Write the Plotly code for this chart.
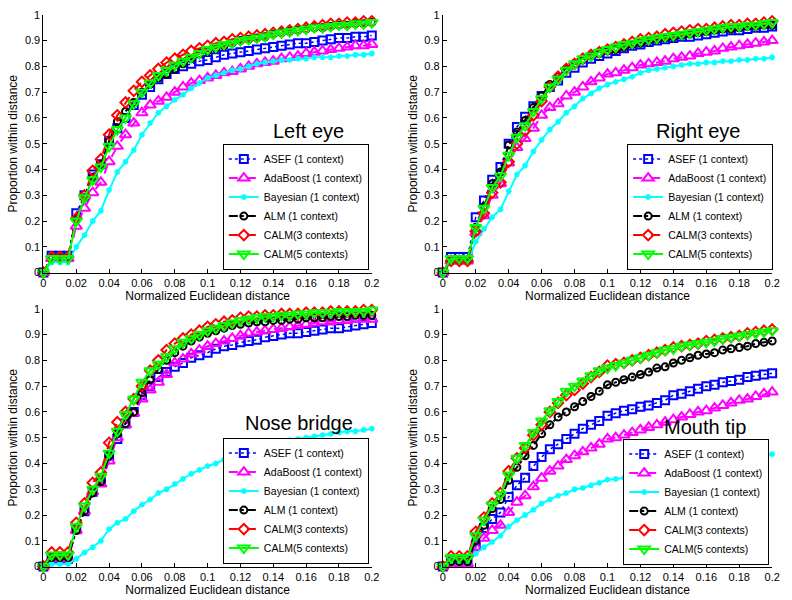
import plotly.graph_objects as go

# ---------------- data ----------------
x_dist = [0, 0.005, 0.01, 0.015, 0.02, 0.025, 0.03, 0.035, 0.04, 0.045,
          0.05, 0.055, 0.06, 0.065, 0.07, 0.075, 0.08, 0.085, 0.09, 0.095,
          0.1, 0.105, 0.11, 0.115, 0.12, 0.125, 0.13, 0.135, 0.14, 0.145,
          0.15, 0.155, 0.16, 0.165, 0.17, 0.175, 0.18, 0.185, 0.19, 0.195, 0.2]

series_names = ["ASEF (1 context)", "AdaBoost (1 context)", "Bayesian (1 context)",
                "ALM (1 context)", "CALM(3 contexts)", "CALM(5 contexts)"]
panel_labels = ["Left eye", "Right eye", "Nose bridge", "Mouth tip"]

x_ticks = [0, 0.02, 0.04, 0.06, 0.08, 0.1, 0.12, 0.14, 0.16, 0.18, 0.2]
x_ticktext = ["0", "0.02", "0.04", "0.06", "0.08", "0.1", "0.12", "0.14", "0.16", "0.18", "0.2"]
y_ticks = [0, 0.1, 0.2, 0.3, 0.4, 0.5, 0.6, 0.7, 0.8, 0.9, 1]
y_ticktext = ["0", "0.1", "0.2", "0.3", "0.4", "0.5", "0.6", "0.7", "0.8", "0.9", "1"]

# Left eye
le_asef = [0, 0.065, 0.065, 0.065, 0.23, 0.30, 0.38, 0.42, 0.51, 0.56, 0.60, 0.65, 0.69, 0.72, 0.75, 0.77, 0.79, 0.80, 0.81, 0.82,
           0.825, 0.835, 0.845, 0.85, 0.855, 0.86, 0.865, 0.87, 0.875, 0.88, 0.885, 0.89, 0.89, 0.895, 0.90, 0.905, 0.91, 0.91, 0.915, 0.915, 0.92]
le_ada = [0, 0.055, 0.055, 0.055, 0.18, 0.25, 0.31, 0.35, 0.43, 0.49, 0.535, 0.58, 0.62, 0.65, 0.665, 0.68, 0.70, 0.72, 0.735, 0.745,
          0.755, 0.765, 0.775, 0.78, 0.79, 0.80, 0.81, 0.815, 0.82, 0.83, 0.835, 0.84, 0.85, 0.855, 0.86, 0.865, 0.87, 0.875, 0.88, 0.88, 0.885]
le_bay = [0, 0.04, 0.04, 0.04, 0.10, 0.145, 0.20, 0.24, 0.32, 0.39, 0.43, 0.475, 0.535, 0.58, 0.62, 0.645, 0.67, 0.69, 0.715, 0.735,
          0.755, 0.765, 0.775, 0.785, 0.79, 0.80, 0.81, 0.815, 0.82, 0.825, 0.825, 0.83, 0.83, 0.835, 0.835, 0.835, 0.84, 0.84, 0.845, 0.845, 0.85]
le_alm = [0, 0.06, 0.06, 0.06, 0.21, 0.29, 0.37, 0.42, 0.51, 0.585, 0.625, 0.66, 0.70, 0.73, 0.755, 0.77, 0.79, 0.81, 0.83, 0.85,
          0.86, 0.87, 0.88, 0.89, 0.90, 0.905, 0.91, 0.915, 0.925, 0.93, 0.935, 0.94, 0.945, 0.95, 0.95, 0.955, 0.96, 0.96, 0.965, 0.965, 0.97]
le_calm3 = [0, 0.06, 0.06, 0.06, 0.21, 0.30, 0.395, 0.44, 0.535, 0.61, 0.66, 0.705, 0.74, 0.765, 0.79, 0.815, 0.83, 0.845, 0.86, 0.87,
            0.88, 0.89, 0.895, 0.905, 0.91, 0.915, 0.92, 0.925, 0.93, 0.935, 0.94, 0.945, 0.95, 0.955, 0.96, 0.965, 0.965, 0.97, 0.97, 0.975, 0.975]
le_calm5 = [0, 0.055, 0.055, 0.055, 0.20, 0.29, 0.36, 0.41, 0.49, 0.555, 0.60, 0.655, 0.70, 0.735, 0.765, 0.785, 0.805, 0.82, 0.835, 0.85,
            0.865, 0.875, 0.885, 0.89, 0.90, 0.905, 0.91, 0.915, 0.925, 0.93, 0.935, 0.94, 0.945, 0.95, 0.95, 0.955, 0.96, 0.96, 0.965, 0.965, 0.97]

# Right eye
re_asef = [0, 0.06, 0.06, 0.06, 0.215, 0.28, 0.36, 0.41, 0.50, 0.565, 0.605, 0.645, 0.685, 0.72, 0.745, 0.775, 0.795, 0.815, 0.83, 0.84,
           0.85, 0.86, 0.87, 0.88, 0.885, 0.895, 0.90, 0.905, 0.91, 0.915, 0.915, 0.92, 0.925, 0.93, 0.935, 0.94, 0.94, 0.945, 0.95, 0.95, 0.955]
re_ada = [0, 0.045, 0.045, 0.045, 0.155, 0.22, 0.30, 0.345, 0.425, 0.485, 0.52, 0.56, 0.61, 0.64, 0.655, 0.685, 0.70, 0.72, 0.74, 0.755,
          0.77, 0.775, 0.785, 0.795, 0.805, 0.81, 0.815, 0.82, 0.83, 0.835, 0.84, 0.85, 0.855, 0.86, 0.87, 0.875, 0.88, 0.885, 0.89, 0.895, 0.90]
re_bay = [0, 0.04, 0.04, 0.04, 0.12, 0.17, 0.215, 0.245, 0.315, 0.38, 0.415, 0.47, 0.515, 0.555, 0.585, 0.62, 0.645, 0.675, 0.695, 0.715,
          0.73, 0.74, 0.75, 0.76, 0.775, 0.785, 0.79, 0.795, 0.80, 0.805, 0.81, 0.81, 0.815, 0.815, 0.82, 0.82, 0.825, 0.825, 0.83, 0.83, 0.835]
re_alm = [0, 0.05, 0.05, 0.05, 0.175, 0.255, 0.345, 0.39, 0.495, 0.545, 0.59, 0.64, 0.685, 0.73, 0.76, 0.79, 0.81, 0.825, 0.84, 0.85,
          0.86, 0.865, 0.875, 0.885, 0.89, 0.90, 0.905, 0.91, 0.915, 0.92, 0.925, 0.93, 0.935, 0.94, 0.945, 0.945, 0.95, 0.955, 0.955, 0.96, 0.96]
re_calm3 = [0, 0.045, 0.045, 0.045, 0.16, 0.23, 0.31, 0.35, 0.43, 0.50, 0.55, 0.61, 0.665, 0.72, 0.76, 0.79, 0.81, 0.83, 0.845, 0.855,
            0.865, 0.875, 0.885, 0.895, 0.905, 0.91, 0.915, 0.925, 0.93, 0.935, 0.94, 0.945, 0.945, 0.95, 0.955, 0.96, 0.96, 0.965, 0.965, 0.97, 0.975]
re_calm5 = [0, 0.055, 0.055, 0.055, 0.175, 0.25, 0.33, 0.375, 0.455, 0.525, 0.57, 0.625, 0.675, 0.72, 0.75, 0.785, 0.81, 0.83, 0.84, 0.855,
            0.865, 0.875, 0.885, 0.89, 0.90, 0.905, 0.91, 0.915, 0.92, 0.925, 0.93, 0.935, 0.94, 0.945, 0.95, 0.955, 0.955, 0.96, 0.96, 0.965, 0.97]

# Nose bridge
nb_asef = [0, 0.03, 0.03, 0.03, 0.145, 0.215, 0.29, 0.33, 0.43, 0.495, 0.555, 0.60, 0.665, 0.70, 0.735, 0.755, 0.775, 0.79, 0.81, 0.82,
           0.83, 0.845, 0.855, 0.86, 0.87, 0.875, 0.88, 0.89, 0.895, 0.90, 0.905, 0.905, 0.91, 0.915, 0.92, 0.925, 0.925, 0.93, 0.935, 0.94, 0.945]
nb_ada = [0, 0.03, 0.03, 0.03, 0.14, 0.215, 0.29, 0.32, 0.41, 0.50, 0.55, 0.595, 0.65, 0.685, 0.715, 0.745, 0.79, 0.805, 0.825, 0.84,
          0.855, 0.865, 0.875, 0.885, 0.895, 0.905, 0.91, 0.915, 0.92, 0.925, 0.93, 0.935, 0.94, 0.945, 0.95, 0.95, 0.955, 0.955, 0.96, 0.96, 0.96]
nb_bay = [0, 0.01, 0.01, 0.01, 0.03, 0.055, 0.075, 0.10, 0.145, 0.17, 0.185, 0.215, 0.24, 0.26, 0.285, 0.30, 0.32, 0.34, 0.36, 0.375,
          0.39, 0.40, 0.415, 0.425, 0.435, 0.445, 0.455, 0.465, 0.475, 0.485, 0.49, 0.495, 0.50, 0.505, 0.51, 0.515, 0.52, 0.525, 0.525, 0.53, 0.535]
nb_alm = [0, 0.035, 0.035, 0.035, 0.14, 0.215, 0.285, 0.33, 0.43, 0.515, 0.555, 0.60, 0.675, 0.725, 0.765, 0.80, 0.83, 0.855, 0.875, 0.89,
          0.905, 0.915, 0.925, 0.935, 0.94, 0.945, 0.95, 0.95, 0.955, 0.955, 0.96, 0.96, 0.965, 0.965, 0.965, 0.97, 0.97, 0.97, 0.975, 0.975, 0.975]
nb_calm3 = [0, 0.055, 0.055, 0.055, 0.17, 0.245, 0.325, 0.365, 0.48, 0.56, 0.60, 0.65, 0.70, 0.76, 0.80, 0.84, 0.865, 0.885, 0.90, 0.915,
            0.93, 0.94, 0.95, 0.955, 0.965, 0.97, 0.97, 0.975, 0.975, 0.98, 0.98, 0.98, 0.985, 0.985, 0.985, 0.99, 0.99, 0.99, 0.99, 0.995, 0.995]
nb_calm5 = [0, 0.045, 0.045, 0.045, 0.155, 0.235, 0.30, 0.35, 0.44, 0.525, 0.59, 0.65, 0.715, 0.76, 0.785, 0.815, 0.845, 0.87, 0.885, 0.90,
            0.915, 0.925, 0.935, 0.945, 0.955, 0.96, 0.965, 0.97, 0.97, 0.975, 0.975, 0.98, 0.98, 0.985, 0.985, 0.985, 0.99, 0.99, 0.99, 0.99, 0.995]

# Mouth tip
mt_asef = [0, 0.02, 0.02, 0.02, 0.08, 0.15, 0.185, 0.21, 0.27, 0.315, 0.345, 0.39, 0.425, 0.455, 0.475, 0.495, 0.515, 0.535, 0.55, 0.565,
           0.585, 0.595, 0.605, 0.61, 0.62, 0.625, 0.635, 0.645, 0.665, 0.67, 0.68, 0.69, 0.70, 0.705, 0.715, 0.72, 0.725, 0.735, 0.74, 0.745, 0.75]
mt_ada = [0, 0.01, 0.01, 0.01, 0.075, 0.11, 0.14, 0.16, 0.21, 0.25, 0.275, 0.31, 0.343, 0.37, 0.39, 0.415, 0.43, 0.445, 0.46, 0.475,
          0.495, 0.50, 0.51, 0.52, 0.53, 0.54, 0.55, 0.56, 0.57, 0.58, 0.59, 0.60, 0.605, 0.615, 0.625, 0.635, 0.645, 0.65, 0.66, 0.67, 0.677]
mt_bay = [0, 0.015, 0.015, 0.015, 0.05, 0.075, 0.095, 0.12, 0.155, 0.18, 0.20, 0.22, 0.245, 0.26, 0.275, 0.285, 0.30, 0.305, 0.315, 0.325,
          0.337, 0.34, 0.345, 0.35, 0.355, 0.36, 0.365, 0.37, 0.375, 0.38, 0.385, 0.39, 0.395, 0.40, 0.405, 0.41, 0.415, 0.42, 0.425, 0.43, 0.436]
mt_alm = [0, 0.02, 0.02, 0.02, 0.10, 0.16, 0.225, 0.26, 0.335, 0.385, 0.43, 0.47, 0.515, 0.55, 0.58, 0.60, 0.62, 0.64, 0.66, 0.68,
          0.705, 0.715, 0.725, 0.735, 0.745, 0.755, 0.77, 0.775, 0.79, 0.80, 0.81, 0.82, 0.825, 0.83, 0.84, 0.845, 0.85, 0.855, 0.865, 0.87, 0.875]
mt_calm3 = [0, 0.04, 0.04, 0.04, 0.135, 0.19, 0.245, 0.285, 0.37, 0.42, 0.46, 0.51, 0.55, 0.60, 0.635, 0.665, 0.685, 0.71, 0.735, 0.755,
            0.78, 0.785, 0.79, 0.80, 0.81, 0.82, 0.83, 0.84, 0.85, 0.855, 0.86, 0.865, 0.875, 0.88, 0.885, 0.89, 0.895, 0.905, 0.91, 0.915, 0.92]
mt_calm5 = [0, 0.035, 0.035, 0.035, 0.12, 0.18, 0.24, 0.28, 0.355, 0.42, 0.47, 0.52, 0.565, 0.605, 0.64, 0.68, 0.70, 0.72, 0.74, 0.76,
            0.77, 0.78, 0.79, 0.80, 0.81, 0.82, 0.83, 0.84, 0.845, 0.855, 0.86, 0.865, 0.87, 0.875, 0.885, 0.89, 0.895, 0.90, 0.905, 0.91, 0.915]

panels = [
    [le_asef, le_ada, le_bay, le_alm, le_calm3, le_calm5],
    [re_asef, re_ada, re_bay, re_alm, re_calm3, re_calm5],
    [nb_asef, nb_ada, nb_bay, nb_alm, nb_calm3, nb_calm5],
    [mt_asef, mt_ada, mt_bay, mt_alm, mt_calm3, mt_calm5],
]

# ---------------- styles ----------------
styles = [
    dict(color="#0000FF", dash="dot", lw=1.5, symbol="square-open", size=8, mlw=2),
    dict(color="#FF00FF", dash="dash", lw=2, symbol="triangle-up-open", size=10, mlw=2),
    dict(color="#00FFFF", dash="solid", lw=2, symbol="asterisk-open", size=5, mlw=1.5),
    dict(color="#000000", dash="dashdot", lw=2, symbol="circle-open", size=7, mlw=2),
    dict(color="#FF0000", dash="dash", lw=2, symbol="diamond-open", size=8, mlw=2),
    dict(color="#00FF00", dash="solid", lw=2, symbol="triangle-down-open", size=10, mlw=2),
]

W, H = 792, 600
xdoms = [[41 / W, 374 / W], [446 / W, 780 / W]]
ydoms = [[1 - 272 / H, 1 - 9 / H], [1 - 572 / H, 1 - 309 / H]]
legend_pos = [(371 / W, 1 - 269 / H), (781 / W, 1 - 269 / H),
              (371 / W, 1 - 569 / H), (777 / W, 1 - 570 / H)]
label_pos = [(310 / W, 1 - 128 / H), (705 / W, 1 - 128 / H),
             (300 / W, 1 - 426 / H), (712 / W, 1 - 430 / H)]

FONT = "Liberation Sans, Arial, Helvetica, sans-serif"

fig = go.Figure()
layout = dict(width=W, height=H, margin=dict(l=0, r=0, t=0, b=0),
              paper_bgcolor="white", plot_bgcolor="white",
              font=dict(family=FONT, size=11, color="black"),
              annotations=[])

for p in range(4):
    col = p % 2
    row = p // 2
    ax_id = "" if p == 0 else str(p + 1)
    leg_id = "legend" if p == 0 else f"legend{p + 1}"
    for s in range(6):
        st = styles[s]
        fig.add_trace(go.Scatter(
            x=x_dist, y=panels[p][s], name=series_names[s],
            mode="lines+markers",
            xaxis="x" + ax_id, yaxis="y" + ax_id,
            legend=leg_id, cliponaxis=False,
            line=dict(color=st["color"], dash=st["dash"], width=st["lw"]),
            marker=dict(symbol=st["symbol"], size=st["size"], color=st["color"],
                        line=dict(color=st["color"], width=st["mlw"])),
        ))
    layout["xaxis" + ax_id] = dict(
        domain=xdoms[col], range=[0, 0.2], anchor="y" + ax_id,
        tickvals=x_ticks, ticktext=x_ticktext, ticks="inside", ticklen=4,
        tickcolor="black", showline=True, linecolor="black", linewidth=1,
        showgrid=False, zeroline=False, tickfont=dict(size=11),
        title=dict(text="Normalized Euclidean distance", font=dict(size=12), standoff=0),
    )
    layout["yaxis" + ax_id] = dict(
        domain=ydoms[row], range=[0, 1], anchor="x" + ax_id,
        tickvals=y_ticks, ticktext=y_ticktext, ticks="inside", ticklen=4,
        tickcolor="black", showline=True, linecolor="black", linewidth=1,
        showgrid=False, zeroline=False, tickfont=dict(size=11),
        title=dict(text="Proportion within distance", font=dict(size=12), standoff=4),
    )
    lx, ly = legend_pos[p]
    layout[leg_id] = dict(
        x=lx, y=ly, xanchor="right", yanchor="bottom", xref="paper", yref="paper",
        bgcolor="white", bordercolor="black", borderwidth=1,
        font=dict(size=10.5, family=FONT), itemwidth=30, tracegroupgap=0,
    )
    ax, ay = label_pos[p]
    layout["annotations"].append(dict(
        text=panel_labels[p], x=ax, y=ay, xref="paper", yref="paper",
        showarrow=False, xanchor="center", yanchor="middle",
        font=dict(size=20, family=FONT, color="black"),
    ))

fig.update_layout(**layout)
fig.write_html("out.html")
